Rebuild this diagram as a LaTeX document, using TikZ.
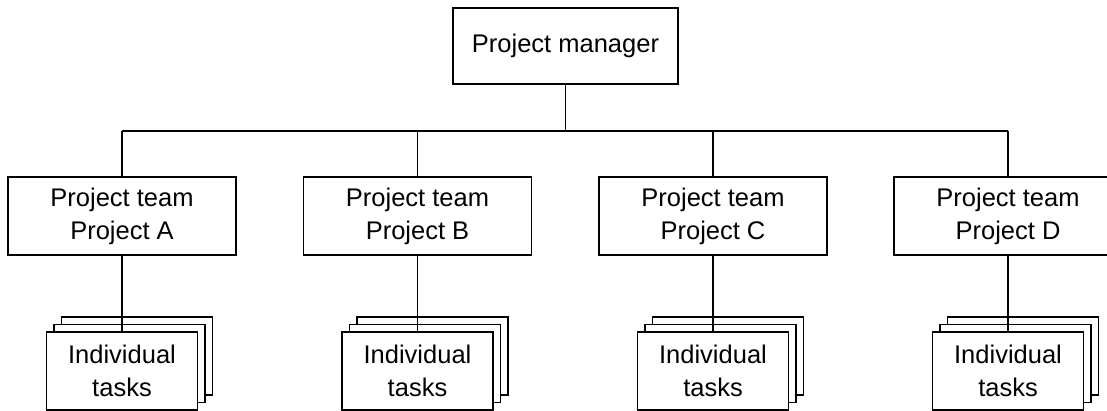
\documentclass[tikz,border=0pt]{standalone}
\usepackage{fontspec}
\setmainfont{Liberation Sans}
\begin{document}
\begin{tikzpicture}[x=1pt,y=-1pt,
  box/.style={draw=black,line width=1.8pt,fill=white,inner sep=0pt,align=center,
    font=\fontsize{25.5}{33}\selectfont},
  team/.style={box,minimum width=228pt,minimum height=78pt},
  task/.style={box,minimum width=151pt,minimum height=78pt},
  conn/.style={draw=black,line width=1.8pt}]
\useasboundingbox (0,0) rectangle (1107,411);
\clip (0,0) rectangle (1107,411);
\node[box,minimum width=225pt,minimum height=76pt] (pm) at (565.5,46) {Project manager};
\coordinate (bus) at (565.5,131);
\foreach \n/\x in {A/122,B/417.5,C/713,D/1008}{
  \node[team] (team\n) at (\x,216) {Project team\\Project \n};
  \coordinate (top\n) at (\x,131);
  \node[task] (back\n) at (\x+15,356) {};
  \node[task] (mid\n) at (\x+7.5,363.5) {};
  \node[task] (task\n) at (\x,371) {Individual\\tasks};
}
\draw[conn] (pm.south) -- (bus);
\draw[conn] (topA) -- (topD);
\foreach \n in {A,B,C,D}{
  \draw[conn] (top\n) -- (team\n.north);
  \draw[conn] (team\n.south) -- (task\n.north);
}
\end{tikzpicture}
\end{document}
